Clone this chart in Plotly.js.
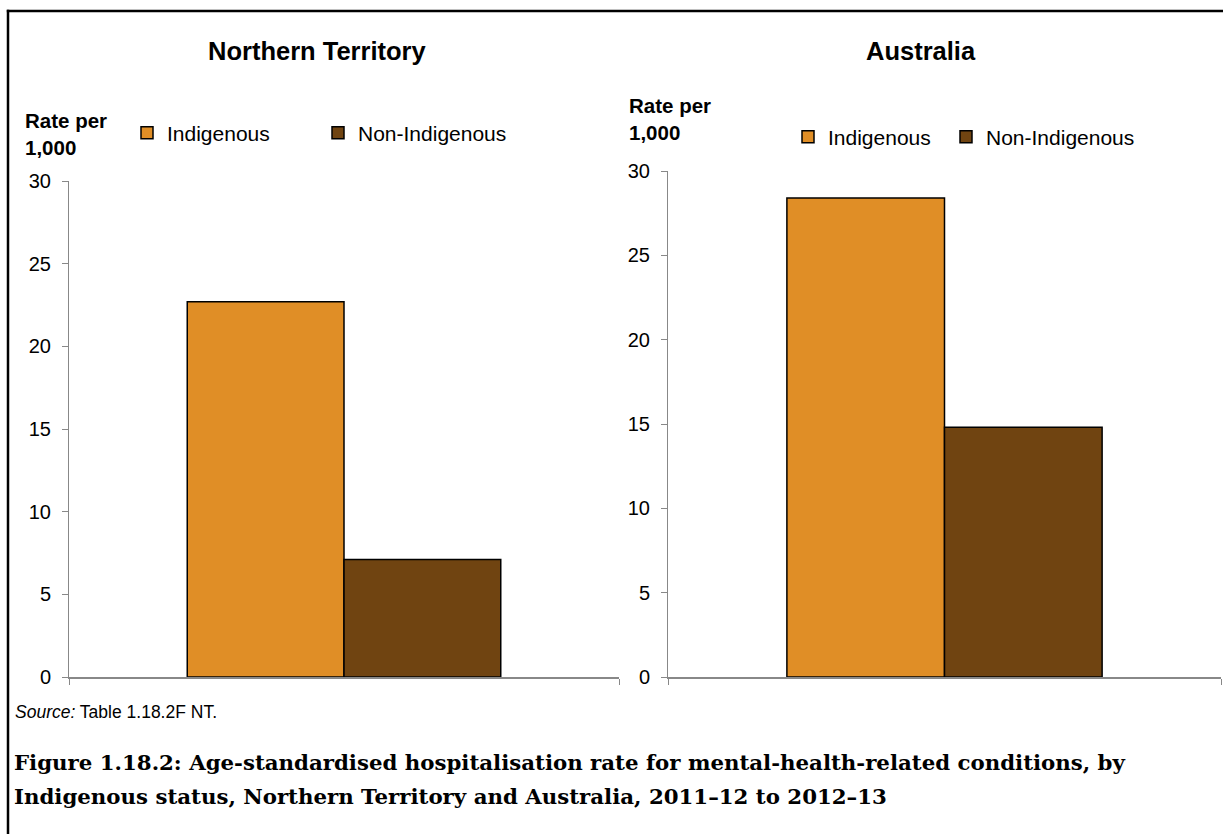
<!DOCTYPE html>
<html>
<head>
<meta charset="utf-8">
<script src="https://cdn.plot.ly/plotly-3.0.1.min.js"></script>
<style>
  html, body { margin: 0; padding: 0; background: #ffffff; }
  #chart { width: 1223px; height: 834px; }
</style>
</head>
<body>
<div id="chart"></div>
<script>
// ---- data ----
const panels = ["Northern Territory", "Australia"];
const seriesNames = ["Indigenous", "Non-Indigenous"];
const ntValues = [22.7, 7.1];          // Indigenous, Non-Indigenous
const ausValues = [28.4, 14.8];        // Indigenous, Non-Indigenous
const yTicks = [0, 5, 10, 15, 20, 25, 30];
const yAxisLabel = "Rate per<br>1,000";
const sourceText = "<i>Source:</i> Table 1.18.2F NT.";
const captionLines = [
  "Figure 1.18.2: Age-standardised hospitalisation rate for mental-health-related conditions, by",
  "Indigenous status, Northern Territory and Australia, 2011–12 to 2012–13"
];

// ---- styling ----
const W = 1223, H = 834;
const colors = ["#E08E26", "#704411"];
const px = v => v / W;
const py = v => 1 - v / H;

const panelValues = [ntValues, ausValues];
const legendIds = [["legend", "legend2"], ["legend3", "legend4"]];
const traces = [];
panelValues.forEach((vals, p) => {
  vals.forEach((v, s) => {
    traces.push({
      type: "bar",
      name: seriesNames[s],
      x: [panels[p]],
      y: [v],
      xaxis: p === 0 ? "x" : "x2",
      yaxis: p === 0 ? "y" : "y2",
      legend: legendIds[p][s],
      showlegend: true,
      marker: { color: colors[s], line: { color: "#000000", width: 1.5 } },
      hoverinfo: "y"
    });
  });
});

const sans = "Liberation Sans, Arial, sans-serif";
const yCommon = {
  range: [0, 30],
  tickvals: yTicks,
  ticks: "outside",
  ticklen: 6,
  tickwidth: 1,
  tickcolor: "#888888",
  showline: true,
  linecolor: "#888888",
  linewidth: 1,
  showgrid: false,
  zeroline: false,
  ticklabelstandoff: 7,
  tickfont: { family: sans, size: 20, color: "#000000" }
};
const xCommon = {
  type: "category",
  range: [-0.5, 0.5],
  tickson: "boundaries",
  ticks: "outside",
  ticklen: 6,
  tickwidth: 1,
  tickcolor: "#888888",
  showline: true,
  linecolor: "#888888",
  linewidth: 1.5,
  showgrid: false,
  showticklabels: false,
  fixedrange: true
};

const titleFont = { family: sans, size: 25.5, color: "#000000" };
const labelFont = { family: sans, size: 20.5, color: "#000000" };
const legendFont = { family: sans, size: 21, color: "#000000" };
const captionFont = { family: "DejaVu Serif, serif", size: 21.3, color: "#000000" };

function mkLegend(xPix, yPix) {
  return {
    orientation: "h",
    x: px(xPix), xanchor: "left",
    y: py(yPix), yanchor: "middle",
    font: legendFont,
    bgcolor: "rgba(0,0,0,0)",
    borderwidth: 0
  };
}

const layout = {
  width: W,
  height: H,
  margin: { l: 0, r: 0, t: 0, b: 0 },
  paper_bgcolor: "#ffffff",
  plot_bgcolor: "rgba(0,0,0,0)",
  showlegend: true,
  barmode: "group",
  bargap: 0.43,
  bargroupgap: 0,
  xaxis: Object.assign({}, xCommon, { domain: [px(69), px(619)], anchor: "y" }),
  yaxis: Object.assign({}, yCommon, { domain: [py(677), py(181)], anchor: "x" }),
  xaxis2: Object.assign({}, xCommon, { domain: [px(668), px(1221)], anchor: "y2" }),
  yaxis2: Object.assign({}, yCommon, { domain: [py(677), py(171)], anchor: "x2" }),
  legend: mkLegend(127, 133),
  legend2: mkLegend(318, 133),
  legend3: mkLegend(788, 137),
  legend4: mkLegend(946, 137),
  shapes: [
    { type: "line", xref: "paper", yref: "paper", x0: px(8), x1: px(8), y0: -0.05, y1: py(9.8),
      line: { color: "#000000", width: 2.5 }, layer: "below" },
    { type: "line", xref: "paper", yref: "paper", x0: px(6.8), x1: 1.05, y0: py(11), y1: py(11),
      line: { color: "#000000", width: 2.5 }, layer: "below" }
  ],
  annotations: [
    { text: "<b>" + panels[0] + "</b>", xref: "paper", yref: "paper", x: px(317), y: py(51),
      xanchor: "center", yanchor: "middle", showarrow: false, font: titleFont },
    { text: "<b>" + panels[1] + "</b>", xref: "paper", yref: "paper", x: px(921), y: py(51),
      xanchor: "center", yanchor: "middle", showarrow: false, font: titleFont },
    { text: "<b>" + yAxisLabel + "</b>", xref: "paper", yref: "paper", x: px(23), y: py(134),
      xanchor: "left", yanchor: "middle", align: "left", showarrow: false, font: labelFont },
    { text: "<b>" + yAxisLabel + "</b>", xref: "paper", yref: "paper", x: px(627), y: py(119),
      xanchor: "left", yanchor: "middle", align: "left", showarrow: false, font: labelFont },
    { text: sourceText, xref: "paper", yref: "paper", x: px(13), y: py(712),
      xanchor: "left", yanchor: "middle", align: "left", showarrow: false,
      font: { family: sans, size: 17.5, color: "#000000" } },
    { text: "<b>" + captionLines[0] + "</b>", xref: "paper", yref: "paper", x: px(12), y: py(762),
      xanchor: "left", yanchor: "middle", align: "left", showarrow: false, font: captionFont },
    { text: "<b>" + captionLines[1] + "</b>", xref: "paper", yref: "paper", x: px(12), y: py(796),
      xanchor: "left", yanchor: "middle", align: "left", showarrow: false, font: captionFont }
  ]
};

Plotly.newPlot("chart", traces, layout, { displayModeBar: false, staticPlot: true });
</script>
</body>
</html>
